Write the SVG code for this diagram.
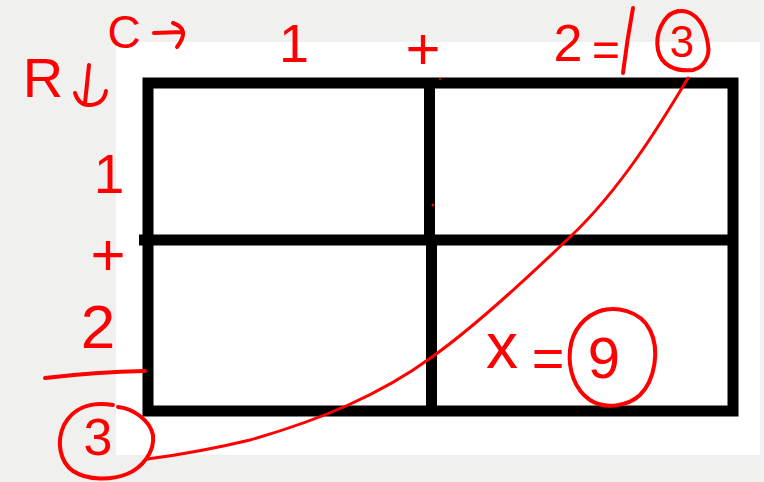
<svg xmlns="http://www.w3.org/2000/svg" width="764" height="482" viewBox="0 0 764 482">
<style>
.ink{fill:none;stroke:#ff0000;stroke-width:4;stroke-linecap:round;stroke-linejoin:round}
.thin{fill:none;stroke:#ff0000;stroke-width:3;stroke-linecap:round}
.grid{fill:none;stroke:#000;stroke-width:11}
.t{fill:#ff0000;font-family:"Liberation Sans",Arial,sans-serif;text-anchor:middle}
</style>
<rect width="764" height="482" fill="#f0f0ef"/>
<rect x="116" y="42" width="644" height="413" fill="#ffffff"/>
<g id="grid">
<rect class="grid" x="148" y="83" width="585" height="328"/>
<line class="grid" x1="429.5" y1="83" x2="429.5" y2="240"/>
<line class="grid" x1="431.5" y1="240" x2="431.5" y2="411"/>
<line class="grid" x1="139" y1="240" x2="733" y2="240"/>
</g>
<g id="column-labels">
<text class="t" x="124" y="48" font-size="46">C</text>
<path class="ink" d="M154,33 L182,32 M173,23 Q191,29 177,47"/>
<text class="t" x="294" y="62" font-size="54">1</text>
<text class="t" x="423" y="69" font-size="60">+</text>
<text class="t" x="568" y="61" font-size="52">2</text>
<text class="t" x="606" y="66" font-size="48">=</text>
<path class="ink" d="M633,8 Q627,40 623,73"/>
<path class="ink" d="M678,11 C662,15 655,35 658,50 C661,65 675,72 693,70 C705,67 710,55 708,45 C706,30 700,18 690,13 C682,9 672,12 668,16"/>
<text class="t" x="682" y="57" font-size="44">3</text>
</g>
<g id="row-labels">
<text class="t" x="43" y="97" font-size="56">R</text>
<path class="ink" d="M89,65 L85,103 M75,93 Q79,106 90,105 Q104,104 106,91"/>
<text class="t" x="109" y="193" font-size="55">1</text>
<text class="t" x="108" y="275" font-size="60">+</text>
<text class="t" x="98" y="348" font-size="62">2</text>
<path class="ink" d="M45,378 Q95,372 145,371"/>
<path class="ink" d="M118,407 C132,408 150,420 153,435 C155,452 142,468 127,474 C112,480 88,481 73,471 C60,462 56,442 64,425 C72,410 88,401 113,405"/>
<text class="t" x="98" y="455" font-size="52">3</text>
</g>
<g id="result">
<text class="t" x="502" y="368" font-size="64">x</text>
<text class="t" x="548" y="377" font-size="56">=</text>
<path class="ink" d="M600,311 C615,306 640,310 650,330 C660,350 655,380 640,395 C628,406 605,410 590,400 C575,390 568,370 570,350 C572,330 585,315 603,310"/>
<text class="t" x="604" y="378" font-size="58">9</text>
</g>
<g id="connectors">
<path class="thin" d="M688,78 C660,125 620,190 570,237 C520,285 470,330 432,357 C380,395 320,420 250,440 C200,452 170,456 148,459"/>
</g>
<circle cx="433" cy="205" r="1.5" fill="#ff0000"/>
<circle cx="440" cy="79" r="1" fill="#ff0000"/>
</svg>
